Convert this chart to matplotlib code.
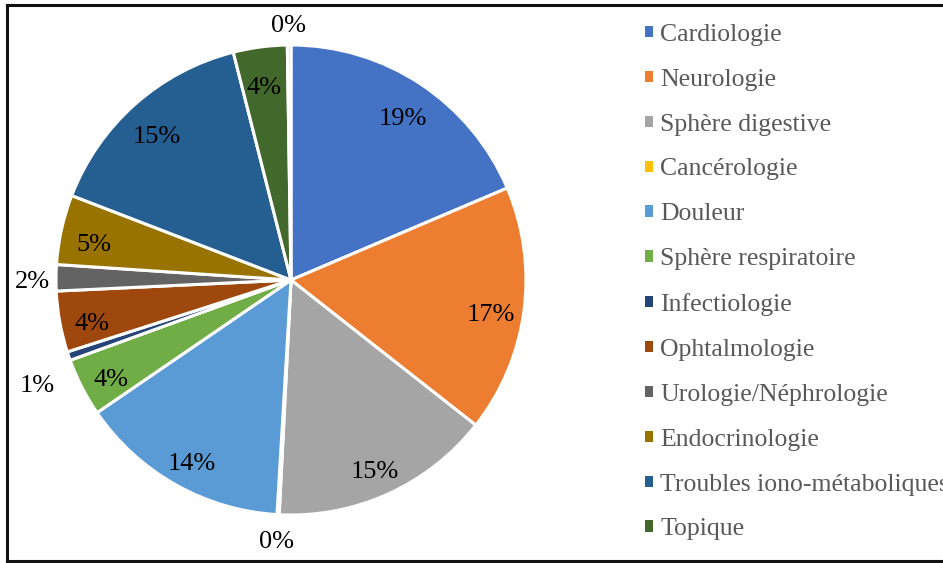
import numpy as np
import matplotlib.pyplot as plt
from matplotlib.patches import Rectangle
from matplotlib.lines import Line2D
from matplotlib.transforms import offset_copy

plt.rcParams['font.family'] = ['Liberation Serif', 'DejaVu Serif']

# data (percent), clockwise from 12 o'clock
categories = ['Cardiologie', 'Neurologie', 'Sphère digestive', 'Cancérologie',
              'Douleur', 'Sphère respiratoire', 'Infectiologie', 'Ophtalmologie',
              'Urologie/Néphrologie', 'Endocrinologie', 'Troubles iono-métaboliques',
              'Topique', 'Autre']
values = [18.6, 17.0, 15.2, 0.15, 14.5, 4.0, 0.6, 4.2, 1.8, 4.8, 15.2, 3.7, 0.25]
colors = ['#4472C4', '#ED7D31', '#A5A5A5', '#FFC000', '#5B9BD5', '#70AD47',
          '#264478', '#9E480E', '#636363', '#997300', '#255E91', '#43682B',
          '#B4C7E7']
n_legend = 12  # the last entry falls outside the frame in the original

W, H = 943, 563
fig = plt.figure(figsize=(W / 100, H / 100), dpi=100)

# pie centre (291, 280) px, radius 235 px
cx, cy, r = 291, 280, 235
ax = fig.add_axes([(cx - r) / W, 1 - (cy + r) / H, 2 * r / W, 2 * r / H])
wedges, _ = ax.pie(values, colors=colors, startangle=90, counterclock=False,
                   wedgeprops=dict(edgecolor='white', linewidth=2.2))
ax.set_xlim(-1, 1)
ax.set_ylim(-1, 1)
ax.set_aspect('equal')
ax.axis('off')

# pixel nudges for crowded outside labels (Excel moves them)
nudge = {6: (-9, -18)}

total = sum(values)
for i, (w, v) in enumerate(zip(wedges, values)):
    mid = np.deg2rad((w.theta1 + w.theta2) / 2)
    if v >= 3:
        d, dy = 0.86, -8
    else:
        d, dy = 1.1, -4
    nx, ny = nudge.get(i, (0, 0))
    tr = offset_copy(ax.transData, fig=fig, x=nx, y=dy + ny, units='dots')
    ax.text(d * np.cos(mid), d * np.sin(mid), f'{round(100 * v / total):.0f}%',
            ha='center', va='center', fontsize=19, color='black',
            clip_on=False, transform=tr)

handles = [Rectangle((0, 0), 1, 1, facecolor=c, edgecolor='none') for c in colors[:n_legend]]
leg = fig.legend(handles, categories[:n_legend], loc='upper left',
                 bbox_to_anchor=(632 / W, 1 - 11 / H), frameon=False,
                 fontsize=18.5, handlelength=0.3, handleheight=0.3,
                 handletextpad=0.3, labelspacing=0.89, borderpad=0)
for t in leg.get_texts():
    t.set_color('#595959')

# outer frame (left, top, bottom)
lw = 2.2
fig.add_artist(Line2D([6.5 / W, 6.5 / W], [1 - 4.5 / H, 1 - 561 / H], color='#111111', lw=lw))
fig.add_artist(Line2D([6.5 / W, 1], [1 - 4.5 / H, 1 - 4.5 / H], color='#111111', lw=lw))
fig.add_artist(Line2D([6.5 / W, 1], [1 - 561 / H, 1 - 561 / H], color='#111111', lw=lw))

fig.savefig('out.png', dpi=100)
